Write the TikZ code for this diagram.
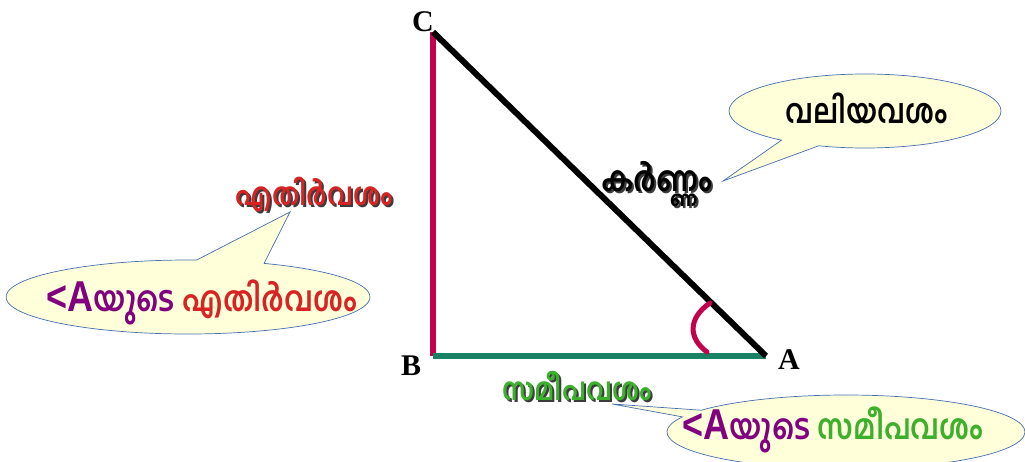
\documentclass[tikz,border=0pt]{standalone}
\usepackage{fontspec}
\usepackage{graphicx}
\newfontfamily\mal[Script=Malayalam]{Hind Kochi}
\newfontfamily\lsans{Liberation Sans}
\newfontfamily\lserif{Liberation Serif}
\usetikzlibrary{shapes.callouts}
\definecolor{sidered}{RGB}{195,0,75}
\definecolor{basegreen}{RGB}{26,130,100}
\definecolor{txtred}{RGB}{215,35,35}
\definecolor{txtgreen}{RGB}{60,175,45}
\definecolor{txtpurple}{RGB}{128,0,128}
\definecolor{calloutfill}{RGB}{255,255,218}
\definecolor{calloutline}{RGB}{70,110,175}
\definecolor{shadowgray}{RGB}{60,60,60}
\newcommand{\tall}[1]{\scalebox{1}[1.2]{#1}}
\tikzset{
  side/.style={line width=6pt},
  vertex/.style={font=\lserif\bfseries\fontsize{30}{30}\selectfont, inner sep=0pt},
  lbl/.style={font=\mal\bfseries\fontsize{26}{26}\selectfont, inner sep=0pt},
  shadowlbl/.style={lbl, text=shadowgray},
  bubble/.style={ellipse callout, fill=calloutfill, draw=calloutline, line width=0.7pt, inner sep=0pt, callout pointer arc=22},
  inbubble/.style={font=\mal\bfseries\fontsize{29}{29}\selectfont, inner sep=0pt},
}
\newcommand{\bigA}{\textcolor{txtpurple}{\lsans\bfseries\fontsize{36}{36}\selectfont <A}}
\begin{document}
\begin{tikzpicture}[x=1pt,y=-1pt]
\useasboundingbox (0,0) rectangle (1025,461);
% vertices
\coordinate (C) at (433,32);
\coordinate (B) at (433,356);
\coordinate (A) at (766,356);
\node[vertex] (lC) at (423,22) {C};
\node[vertex] (lB) at (411,366) {B};
\node[vertex] (lA) at (789,360) {A};
% sides
\draw[side, sidered] (C) -- (B);
\draw[side, basegreen] (B) -- (A);
\draw[side, black] (C) -- (A);
% angle mark
\coordinate (a1) at (710,303);
\coordinate (a2) at (707,352);
\draw[line width=5pt, sidered, line cap=round] (a1) .. controls (688,318) and (688,338) .. (a2);
% callouts
\coordinate (t1) at (290,212);
\coordinate (t2) at (723,181);
\coordinate (t3) at (612,404);
\node[bubble, minimum width=364pt, minimum height=74pt, callout absolute pointer=(t1)] (cl) at (188,297) {};
\node[bubble, minimum width=272pt, minimum height=74pt, callout absolute pointer=(t2), callout pointer arc=18] (cr) at (865,111) {};
\node[bubble, minimum width=358pt, minimum height=74pt, callout absolute pointer=(t3), callout pointer arc=12] (cb) at (846,432) {};
% labels with shadows
\node[shadowlbl] (opps) at (316,197) {\tall{എതിർവശം}};
\node[lbl, text=txtred] (opp) at (314,195) {\tall{എതിർവശം}};
\node[shadowlbl,font=\mal\bfseries\fontsize{29}{29}\selectfont] (hyps) at (659,186) {\tall{കർണ്ണം}};
\node[lbl, text=black,font=\mal\bfseries\fontsize{29}{29}\selectfont] (hyp) at (657,184) {\tall{കർണ്ണം}};
\node[shadowlbl] (adjs) at (579,388) {\tall{സമീപവശം}};
\node[lbl, text=txtgreen] (adj) at (577,386) {\tall{സമീപവശം}};
\node[font=\mal\fontsize{28}{28}\selectfont, inner sep=0pt] (big) at (867,108) {\tall{\textbf{വലിയവശം}}};
% callout texts
\node[inbubble] (tl) at (202,302) {\tall{\bigA\textcolor{txtpurple}{യുടെ} \textcolor{txtred}{എതിർവശം}}};
\node[inbubble] (tb) at (833,430) {\tall{\bigA\textcolor{txtpurple}{യുടെ} \textcolor{txtgreen}{സമീപവശം}}};
\end{tikzpicture}
\end{document}
